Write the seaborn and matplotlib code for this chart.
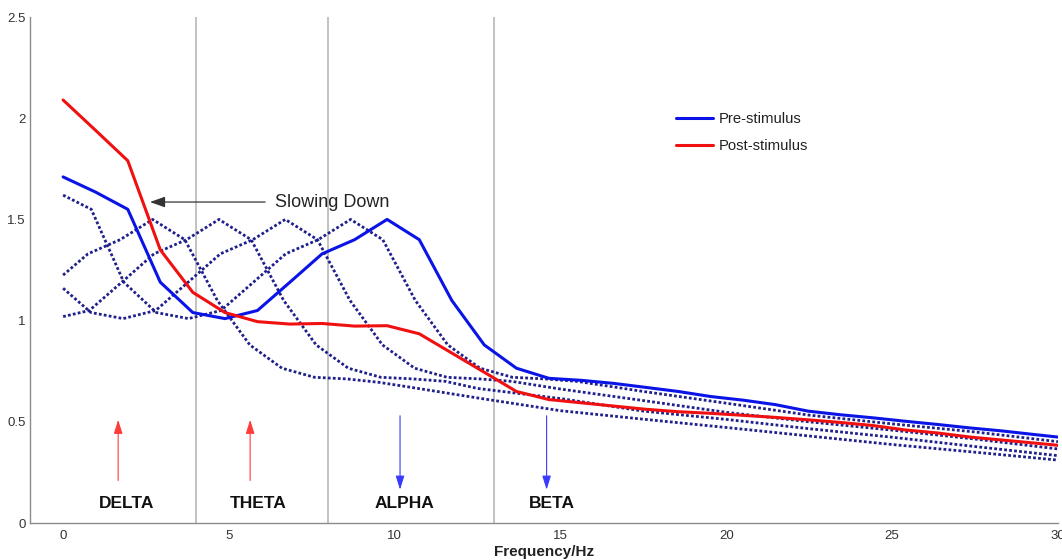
import matplotlib
matplotlib.use("Agg")
import matplotlib.pyplot as plt
import seaborn as sns
import pandas as pd
from matplotlib.ticker import FuncFormatter

# ---------------- data ----------------
freq = [0.00, 0.98, 1.95, 2.93, 3.91, 4.88, 5.86, 6.84, 7.81, 8.79, 9.77,
        10.74, 11.72, 12.70, 13.67, 14.65, 15.63, 16.60, 17.58, 18.55, 19.53,
        20.51, 21.48, 22.46, 23.44, 24.41, 25.39, 26.37, 27.34, 28.32, 29.30, 30.27]

pre_stimulus = [1.71, 1.635, 1.55, 1.19, 1.04, 1.01, 1.05, 1.19, 1.33, 1.40, 1.50,
                1.40, 1.10, 0.88, 0.765, 0.715, 0.705, 0.69, 0.67, 0.65, 0.625,
                0.607, 0.585, 0.553, 0.535, 0.52, 0.503, 0.487, 0.47, 0.455, 0.437, 0.42]

post_stimulus = [2.09, 1.94, 1.79, 1.35, 1.14, 1.04, 0.995, 0.983, 0.986, 0.973, 0.975,
                 0.935, 0.84, 0.745, 0.65, 0.61, 0.594, 0.578, 0.562, 0.55, 0.542,
                 0.532, 0.522, 0.51, 0.497, 0.482, 0.46, 0.445, 0.425, 0.41, 0.395, 0.38]

# shifted (simulated slowing) spectra, dotted
shift1_x = [0, 0.85, 1.83, 2.81, 3.78, 4.76, 5.74, 6.71, 7.69, 8.67, 9.64, 10.62,
            11.60, 12.57, 13.55, 14.53, 15.50, 17.50, 20.00, 22.50, 25.00, 27.50, 30.00]
shift1_y = [1.62, 1.55, 1.19, 1.04, 1.01, 1.05, 1.19, 1.33, 1.40, 1.50, 1.40, 1.10,
            0.88, 0.765, 0.72, 0.712, 0.70, 0.65, 0.592, 0.533, 0.49, 0.45, 0.402]

shift3_x = [0, 0.84, 1.81, 2.79, 3.77, 4.74, 5.72, 6.70, 7.67, 8.65, 9.63, 10.60,
            11.58, 12.56, 13.53, 15.00, 17.50, 20.00, 22.50, 25.00, 27.50, 30.00]
shift3_y = [1.16, 1.04, 1.01, 1.05, 1.19, 1.33, 1.40, 1.50, 1.40, 1.10, 0.88, 0.765,
            0.72, 0.712, 0.70, 0.662, 0.605, 0.547, 0.50, 0.459, 0.415, 0.366]

shift5_x = [0, 0.79, 1.77, 2.74, 3.72, 4.70, 5.67, 6.65, 7.63, 8.60, 9.58, 10.56,
            11.53, 12.50, 15.00, 17.50, 20.00, 22.50, 25.00, 27.50, 30.00]
shift5_y = [1.02, 1.05, 1.19, 1.33, 1.40, 1.50, 1.40, 1.10, 0.88, 0.765, 0.72, 0.712,
            0.70, 0.665, 0.615, 0.553, 0.512, 0.466, 0.424, 0.378, 0.333]

shift7_x = [0, 0.75, 1.72, 2.70, 3.67, 4.65, 5.63, 6.60, 7.58, 8.56, 9.53, 10.51,
            12.50, 15.00, 17.50, 20.00, 22.50, 25.00, 27.50, 30.00]
shift7_y = [1.225, 1.33, 1.40, 1.50, 1.40, 1.10, 0.88, 0.765, 0.72, 0.712, 0.695, 0.67,
            0.618, 0.555, 0.513, 0.472, 0.43, 0.388, 0.35, 0.311]

band_edges = [4, 8, 13]
band_names = ["DELTA", "THETA", "ALPHA", "BETA"]
band_label_x = [1.9, 5.88, 10.3, 14.75]
arrow_x = [1.66, 5.64, 10.16, 14.58]
arrow_dir = ["up", "up", "down", "down"]

x_ticks = [0, 5, 10, 15, 20, 25, 30]
y_ticks = [0, 0.5, 1, 1.5, 2, 2.5]

# ---------------- figure ----------------
sns.set_theme(style="white")
plt.rcParams["font.family"] = ["Liberation Sans", "DejaVu Sans"]

fig = plt.figure(figsize=(10.62, 5.6), dpi=100)
ax = fig.add_axes([0.0282, 0.066, 0.968, 0.9036])

for b in band_edges:
    ax.axvline(b, color="#b8b8b8", lw=1.2, zorder=1)

dot_color = "#20208c"
for xs, ys in [(shift1_x, shift1_y), (shift3_x, shift3_y),
               (shift5_x, shift5_y), (shift7_x, shift7_y)]:
    df = pd.DataFrame({"f": xs, "p": ys})
    sns.lineplot(data=df, x="f", y="p", ax=ax, color=dot_color, lw=2.0,
                 sort=False, estimator=None, legend=False,
                 linestyle=(0, (1.0, 0.8)), zorder=3)

df_pre = pd.DataFrame({"f": freq, "p": pre_stimulus})
sns.lineplot(data=df_pre, x="f", y="p", ax=ax, color="#0a14e6", lw=2.2,
             sort=False, estimator=None, legend=False, zorder=4)
h_pre = ax.lines[-1]

df_post = pd.DataFrame({"f": freq, "p": post_stimulus})
sns.lineplot(data=df_post, x="f", y="p", ax=ax, color="#f01010", lw=2.2,
             sort=False, estimator=None, legend=False, zorder=5)
h_post = ax.lines[-1]

ax.set_xlim(-1, 30)
ax.set_ylim(0, 2.5)
ax.set_xticks(x_ticks)
ax.set_yticks(y_ticks)
fmt = FuncFormatter(lambda v, p: "%g" % v)
ax.xaxis.set_major_formatter(fmt)
ax.yaxis.set_major_formatter(fmt)

for s in ["top", "right"]:
    ax.spines[s].set_visible(False)
for s in ["left", "bottom"]:
    ax.spines[s].set_color("#8c8c8c")
    ax.spines[s].set_linewidth(1.0)

ax.tick_params(axis="both", direction="in", length=7, width=0.9,
               color="#8c8c8c", labelsize=9.5, labelcolor="#333333")
ax.tick_params(axis="x", pad=5)
ax.tick_params(axis="y", pad=3)
ax.set_xlabel("Frequency/Hz", fontsize=11, fontweight="bold", color="#222222",
              labelpad=2)
ax.set_ylabel("")

# band labels and arrows
for name, lx, axx, d in zip(band_names, band_label_x, arrow_x, arrow_dir):
    ax.text(lx, 0.098, name, ha="center", va="center", fontsize=12.5,
            fontweight="bold", color="#111111")
    if d == "up":
        col = "#ff3a3a"
        tip, base = (axx, 0.51), (axx, 0.21)
    else:
        col = "#3a3aff"
        tip, base = (axx, 0.165), (axx, 0.53)
    ax.annotate("", xy=tip, xytext=base,
                arrowprops=dict(arrowstyle="-|>,head_length=0.7,head_width=0.22",
                                color=col, lw=0.8, shrinkA=0, shrinkB=0))

ax.annotate("Slowing Down", xy=(2.62, 1.586), xytext=(6.4, 1.586),
            ha="left", va="center", fontsize=13, color="#222222",
            arrowprops=dict(arrowstyle="-|>,head_length=0.7,head_width=0.25",
                            color="#333333", lw=0.9, shrinkA=5, shrinkB=0))

leg = ax.legend(handles=[h_pre, h_post], labels=["Pre-stimulus", "Post-stimulus"],
                loc="upper left", bbox_to_anchor=(0.628, 0.812), frameon=False,
                fontsize=10.7, handlelength=2.5, handletextpad=0.4,
                labelspacing=0.85, borderpad=0, borderaxespad=0)
for t in leg.get_texts():
    t.set_color("#222222")

fig.savefig("out.png", dpi=100)
